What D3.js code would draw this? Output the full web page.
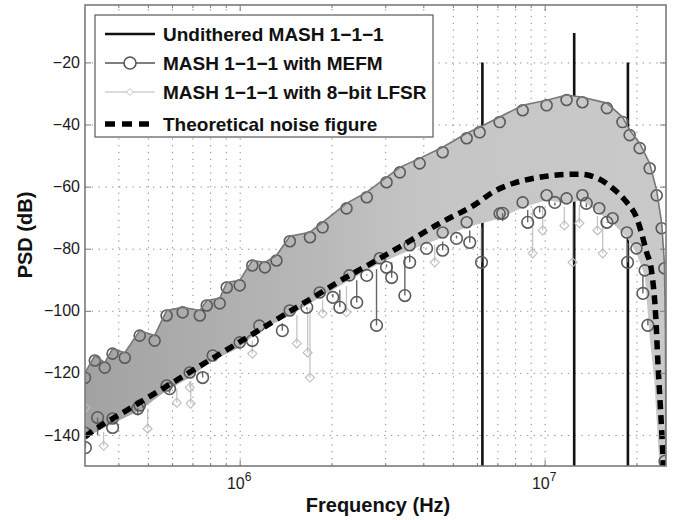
<!DOCTYPE html>
<html>
<head>
<meta charset="utf-8">
<script src="https://cdn.jsdelivr.net/npm/d3@7"></script>
<style>
body { margin: 0; background: #fff; }
svg { display: block; font-family: "Liberation Sans", Arial, sans-serif; }
</style>
</head>
<body>
<script>
// values (frequency in Hz, PSD in dB)
var toneFreq = [6.25e6, 1.25e7, 1.875e7];
var tonePsd = [-20, -10.5, -20];

// envelope of the dense dithered cloud
var bandUpperFreq = [3.11e5, 3.35e5, 3.61e5, 3.83e5, 4.20e5, 4.70e5, 5.26e5, 5.76e5, 6.50e5, 7.40e5, 7.80e5, 8.60e5, 9.07e5, 1.00e6, 1.10e6, 1.21e6, 1.32e6, 1.46e6, 1.70e6, 1.87e6, 2.24e6, 2.61e6, 3.03e6, 3.35e6, 3.89e6, 4.63e6, 5.55e6, 6.12e6, 7.12e6, 8.47e6, 1.015e7, 1.18e7, 1.33e7, 1.60e7, 1.80e7, 1.90e7, 2.05e7, 2.21e7, 2.33e7, 2.42e7, 2.47e7, 2.49e7, 2.50e7];
var bandUpperPsd = [-120, -114.4, -116.7, -112.2, -113.5, -106.4, -108, -99.9, -98.9, -99.9, -96.7, -96.0, -90.9, -90.2, -83.8, -84.4, -82.2, -76.0, -74.7, -71.5, -65.4, -61.8, -57.0, -53.8, -50.9, -47.3, -42.8, -40.9, -37.6, -33.8, -32.2, -30.5, -31.2, -33.1, -37.6, -41.8, -46.0, -52.5, -61.2, -71.8, -84.7, -106.4, -150];
var bandLowerFreq = [3.11e5, 3.83e5, 4.70e5, 5.76e5, 6.86e5, 8.16e5, 1.00e6, 1.16e6, 1.46e6, 1.83e6, 2.29e6, 2.88e6, 3.61e6, 4.63e6, 5.55e6, 7.12e6, 8.47e6, 1.015e7, 1.18e7, 1.33e7, 1.51e7, 1.67e7, 1.86e7, 2.00e7, 2.13e7, 2.21e7, 2.29e7, 2.33e7, 2.38e7];
var bandLowerPsd = [-140.9, -136.3, -132.1, -125.7, -121.5, -116.0, -111.8, -106.4, -101.5, -95.7, -90.2, -84.7, -80.5, -76.4, -73.1, -70.3, -66.7, -64.4, -65.4, -64.4, -68.6, -71.8, -76.4, -81.5, -88.6, -108.6, -122.5, -135.4, -150];

// MEFM points standing out below the cloud
var mefmFreq = [3.12e5, 3.42e5, 3.83e5, 4.63e5, 5.89e5, 7.56e5, 1.10e6, 1.38e6, 1.66e6, 2.02e6, 2.13e6, 2.42e6, 2.61e6, 2.81e6, 3.03e6, 3.15e6, 3.48e6, 3.61e6, 4.10e6, 4.63e6, 5.14e6, 5.68e6, 6.21e6, 7.28e6, 8.80e6, 9.63e6, 1.08e7, 1.37e7, 1.60e7, 1.87e7, 2.10e7, 2.18e7, 2.48e7];
var mefmPsd = [-144.1, -134.4, -137.6, -131.5, -125.1, -121.5, -109.6, -106.4, -98.9, -95.7, -98.9, -97.3, -88.6, -104.7, -86.0, -89.3, -95.1, -84.4, -79.9, -80.5, -76.7, -78.0, -84.4, -68.6, -71.5, -68.3, -65.1, -65.4, -71.5, -84.4, -94.4, -104.7, -148.5];

// LFSR points standing out below the cloud
var lfsrFreq = [3.12e5, 3.58e5, 4.99e5, 6.22e5, 6.86e5, 6.91e5, 1.10e6, 1.54e6, 1.67e6, 1.70e6, 1.87e6, 2.24e6, 4.36e6, 9.13e6, 9.85e6, 1.16e7, 1.235e7, 1.30e7, 1.49e7, 1.55e7];
var lfsrPsd = [-131.2, -143.5, -138.0, -129.6, -124.7, -129.9, -113.8, -110.5, -113.5, -121.5, -100.9, -100.5, -84.4, -81.5, -74.1, -72.5, -84.4, -71.8, -74.1, -81.5];

// theoretical noise figure
var theoryFreq = [3.11e5, 3.56e5, 3.98e5, 5.07e5, 6.35e5, 7.40e5, 9.27e5, 1.16e6, 1.46e6, 1.83e6, 2.08e6, 2.61e6, 3.35e6, 4.53e6, 5.99e6, 6.76e6, 7.86e6, 9.63e6, 1.12e7, 1.30e7, 1.49e7, 1.67e7, 1.86e7, 2.00e7, 2.08e7, 2.16e7, 2.24e7, 2.32e7, 2.35e7, 2.39e7, 2.43e7, 2.45e7];
var theoryPsd = [-140.5, -136.6, -133.8, -127.6, -121.8, -117.8, -112.0, -106.2, -100.2, -94.4, -91.0, -85.5, -79.4, -71.8, -65.4, -61.8, -59.0, -57.0, -56.2, -56.0, -57.3, -60.5, -65.1, -69.9, -75.1, -81.2, -87.0, -104.0, -116.0, -129.0, -142.0, -150.0];

var yTicks = [-140, -120, -100, -80, -60, -40, -20];
var xMajor = [1e6, 1e7];
var xMajorExp = ["6", "7"];
var xMinor = [4e5, 5e5, 6e5, 7e5, 8e5, 9e5, 2e6, 3e6, 4e6, 5e6, 6e6, 7e6, 8e6, 9e6, 2e7];
var legendLabels = ["Undithered MASH 1\u22121\u22121", "MASH 1\u22121\u22121 with MEFM",
	"MASH 1\u22121\u22121 with 8\u2212bit LFSR", "Theoretical noise figure"];

var width = 678, height = 520,
	pL = 85, pR = 666, pT = 5, pB = 466;

var x = d3.scaleLog().domain([3.11e5, 2.5e7]).range([pL, pR]);
var y = d3.scaleLinear().domain([-150, -1.5]).range([pB, pT]);
// piecewise lower edge, used to run the connecting lines up into the cloud
var lowerEdge = d3.scaleLog().domain(bandLowerFreq).range(bandLowerPsd);

var svg = d3.select('body').append('svg')
	.attr('width', width)
	.attr('height', height);

var defs = svg.append('defs');
defs.append('clipPath').attr('id', 'plot')
	.append('rect').attr('x', pL).attr('y', pT)
	.attr('width', pR - pL).attr('height', pB - pT);
var grad = defs.append('linearGradient').attr('id', 'cloud')
	.attr('gradientUnits', 'userSpaceOnUse')
	.attr('x1', x(3.11e5)).attr('x2', x(2.5e7)).attr('y1', 0).attr('y2', 0);
grad.append('stop').attr('offset', 0).attr('stop-color', '#a2a2a2');
grad.append('stop').attr('offset', 0.4).attr('stop-color', '#b8b8b8');
grad.append('stop').attr('offset', 0.58).attr('stop-color', '#c5c5c5');
grad.append('stop').attr('offset', 1).attr('stop-color', '#c9c9c9');

// dotted grid
svg.append('g')
	.attr('transform', 'translate(0,' + pB + ')')
	.call(d3.axisBottom(x).tickValues(xMinor.concat(xMajor)).tickSize(-(pB - pT)).tickFormat(''))
	.call(function(g) { g.select('.domain').remove(); })
	.selectAll('line')
		.attr('stroke', '#8a8a8a')
		.attr('stroke-dasharray', '1.3,5.5');
svg.append('g')
	.attr('transform', 'translate(' + pL + ',0)')
	.call(d3.axisLeft(y).tickValues(yTicks).tickSize(-(pR - pL)).tickFormat(''))
	.call(function(g) { g.select('.domain').remove(); })
	.selectAll('line')
		.attr('stroke', '#8a8a8a')
		.attr('stroke-dasharray', '1.3,5.5');

var plot = svg.append('g').attr('clip-path', 'url(#plot)');

// undithered tones (drawn first, the cloud covers them)
plot.selectAll('.tone')
	.data(toneFreq)
	.enter().append('line')
		.attr('x1', function(d) { return x(d); })
		.attr('x2', function(d) { return x(d); })
		.attr('y1', function(d, i) { return y(tonePsd[i]); })
		.attr('y2', y(-150))
		.attr('stroke', '#111')
		.attr('stroke-width', 2.6);

// dithered cloud
var upperPts = bandUpperFreq.map(function(f, i) { return [f, bandUpperPsd[i]]; });
var lowerPts = bandLowerFreq.map(function(f, i) { return [f, bandLowerPsd[i]]; }).reverse();
var line = d3.line()
	.x(function(d) { return x(d[0]); })
	.y(function(d) { return y(d[1]); });
plot.append('path')
	.attr('d', line(upperPts.concat(lowerPts)) + 'Z')
	.attr('fill', 'url(#cloud)')
	.attr('stroke', 'none');

// connecting lines of the outliers
plot.selectAll('.lstem')
	.data(lfsrFreq)
	.enter().append('line')
		.attr('x1', function(d) { return x(d); })
		.attr('x2', function(d) { return x(d); })
		.attr('y1', function(d, i) { return y(lfsrPsd[i]); })
		.attr('y2', function(d) { return y(lowerEdge(d)) + 4; })
		.attr('stroke', '#c4c4c4')
		.attr('stroke-width', 1.3);
plot.selectAll('.mstem')
	.data(mefmFreq)
	.enter().append('line')
		.attr('x1', function(d) { return x(d); })
		.attr('x2', function(d) { return x(d); })
		.attr('y1', function(d, i) { return y(mefmPsd[i]); })
		.attr('y2', function(d) { return y(lowerEdge(d)) + 4; })
		.attr('stroke', '#666')
		.attr('stroke-width', 1.4);

// diamonds
plot.selectAll('.lfsr')
	.data(lfsrFreq)
	.enter().append('path')
		.attr('d', 'M0,-4.5L4.5,0L0,4.5L-4.5,0Z')
		.attr('transform', function(d, i) { return 'translate(' + x(d) + ',' + y(lfsrPsd[i]) + ')'; })
		.attr('fill', 'none')
		.attr('stroke', '#bdbdbd')
		.attr('stroke-width', 1.1);

// circles along the edges of the cloud
var edge = plot.append('g')
	.attr('fill', 'none')
	.attr('stroke', '#5a5a5a')
	.attr('stroke-width', 1.6);
edge.selectAll('.top')
	.data(bandUpperFreq.slice(0, -2))
	.enter().append('circle')
		.attr('cx', function(d) { return x(d); })
		.attr('cy', function(d, i) { return y(bandUpperPsd[i]) + 5; })
		.attr('r', 5.5);
edge.selectAll('.low')
	.data(bandLowerFreq.slice(0, -4))
	.enter().append('circle')
		.attr('cx', function(d) { return x(d); })
		.attr('cy', function(d, i) { return y(bandLowerPsd[i]) - 5; })
		.attr('r', 5.5);
edge.selectAll('.mefm')
	.data(mefmFreq)
	.enter().append('circle')
		.attr('cx', function(d) { return x(d); })
		.attr('cy', function(d, i) { return y(mefmPsd[i]); })
		.attr('r', 5.8);
plot.append('path')
	.attr('d', line(upperPts))
	.attr('fill', 'none')
	.attr('stroke', '#777')
	.attr('stroke-width', 1.6);

// theoretical noise figure
plot.append('path')
	.attr('d', d3.line()
		.x(function(d) { return x(d); })
		.y(function(d, i) { return y(theoryPsd[i]); })
		.curve(d3.curveMonotoneX)(theoryFreq))
	.attr('fill', 'none')
	.attr('stroke', '#000')
	.attr('stroke-width', 5.5)
	.attr('stroke-dasharray', '9,6');

// frame and ticks
svg.append('rect')
	.attr('x', pL).attr('y', pT)
	.attr('width', pR - pL).attr('height', pB - pT)
	.attr('fill', 'none')
	.attr('stroke', '#7a7a7a')
	.attr('stroke-width', 1.6);

function tickStyle(g) {
	g.select('.domain').remove();
	g.selectAll('line').attr('stroke', '#7a7a7a').attr('stroke-width', 1);
}
svg.append('g').attr('transform', 'translate(0,' + pB + ')')
	.call(d3.axisBottom(x).tickValues(xMinor).tickSize(-3).tickFormat('')).call(tickStyle);
svg.append('g').attr('transform', 'translate(0,' + pT + ')')
	.call(d3.axisTop(x).tickValues(xMinor).tickSize(-3).tickFormat('')).call(tickStyle);
svg.append('g').attr('transform', 'translate(0,' + pT + ')')
	.call(d3.axisTop(x).tickValues(xMajor).tickSize(-6).tickFormat('')).call(tickStyle);
var xAxis = svg.append('g').attr('transform', 'translate(0,' + pB + ')')
	.call(d3.axisBottom(x).tickValues(xMajor).tickSize(-6).tickFormat('')).call(tickStyle);
var lab = xAxis.selectAll('.tick').append('text')
	.attr('fill', '#1a1a1a')
	.attr('text-anchor', 'middle')
	.attr('y', 23)
	.attr('x', -1)
	.style('font-size', '16px');
lab.append('tspan').text('10');
lab.append('tspan')
	.attr('dy', -8)
	.style('font-size', '12px')
	.text(function(d, i) { return xMajorExp[i]; });

var yAxis = svg.append('g').attr('transform', 'translate(' + pL + ',0)')
	.call(d3.axisLeft(y).tickValues(yTicks).tickSize(-6).tickPadding(5))
	.call(tickStyle);
yAxis.selectAll('text')
	.attr('fill', '#1a1a1a')
	.style('font-size', '16px')
	.style('font-family', '"Liberation Sans", Arial, sans-serif');
svg.append('g').attr('transform', 'translate(' + pR + ',0)')
	.call(d3.axisRight(y).tickValues(yTicks).tickSize(-6).tickFormat(''))
	.call(tickStyle);

// axis titles
svg.append('text')
	.attr('x', 378).attr('y', 512)
	.attr('text-anchor', 'middle')
	.style('font-size', '20px').style('font-weight', 'bold')
	.attr('fill', '#111')
	.text('Frequency (Hz)');
svg.append('text')
	.attr('transform', 'translate(32,235) rotate(-90)')
	.attr('text-anchor', 'middle')
	.style('font-size', '20px').style('font-weight', 'bold')
	.attr('fill', '#111')
	.text('PSD (dB)');

// legend
var legend = svg.append('g');
legend.append('rect')
	.attr('x', 95).attr('y', 15)
	.attr('width', 338).attr('height', 122)
	.attr('fill', '#fff')
	.attr('stroke', '#666')
	.attr('stroke-width', 1.3);
var rowY = [34, 63, 92, 124];
var rows = legend.selectAll('.row')
	.data(legendLabels)
	.enter().append('g')
		.attr('transform', function(d, i) { return 'translate(0,' + rowY[i] + ')'; });
rows.append('text')
	.attr('x', 163).attr('y', 0)
	.attr('dy', '0.36em')
	.style('font-size', '19px').style('font-weight', 'bold')
	.attr('fill', '#111')
	.text(function(d) { return d; });
rows.append('line')
	.attr('x1', 105).attr('x2', 155)
	.attr('stroke', function(d, i) { return ['#111', '#555', '#d0d0d0', '#000'][i]; })
	.attr('stroke-width', function(d, i) { return [2.6, 1.5, 1.5, 5.5][i]; })
	.attr('stroke-dasharray', function(d, i) { return i === 3 ? '10,7' : null; });
rows.filter(function(d, i) { return i === 1; }).append('circle')
	.attr('cx', 130).attr('r', 6)
	.attr('fill', '#fff').attr('stroke', '#555').attr('stroke-width', 1.6);
rows.filter(function(d, i) { return i === 2; }).append('path')
	.attr('d', 'M130,-3.5L133.5,0L130,3.5L126.5,0Z')
	.attr('fill', '#fff').attr('stroke', '#c4c4c4').attr('stroke-width', 1);
</script>
</body>
</html>
